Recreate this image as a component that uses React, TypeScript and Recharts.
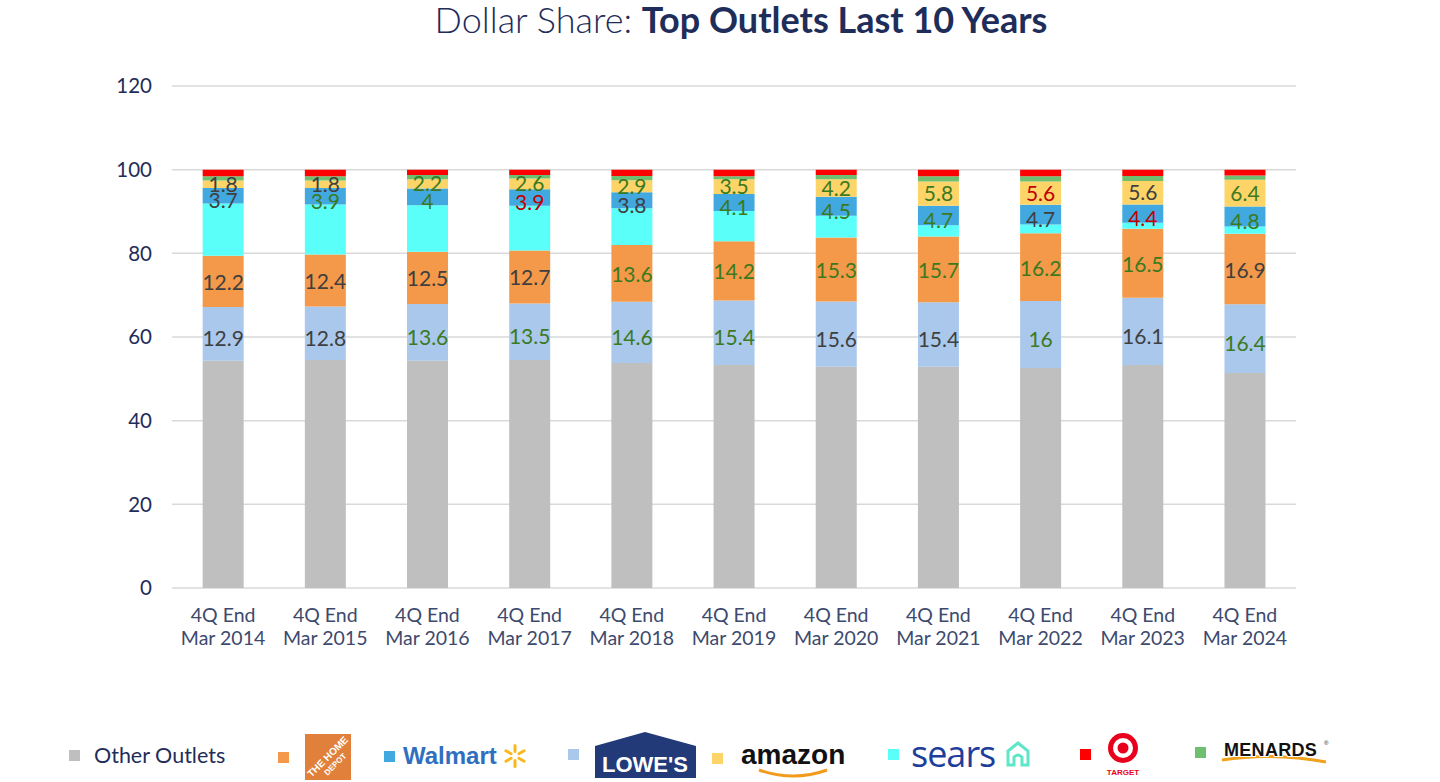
import { BarChart, Bar, XAxis, YAxis, CartesianGrid, LabelList } from "recharts";

const years = ["2014", "2015", "2016", "2017", "2018", "2019", "2020", "2021", "2022", "2023", "2024"];
const yTicks = [0, 20, 40, 60, 80, 100, 120];

// stacked bottom -> top
const otherOutlets = [54.3, 54.5, 54.3, 54.5, 53.8, 53.3, 52.9, 52.9, 52.6, 53.3, 51.4];
const lowes = [12.9, 12.8, 13.6, 13.5, 14.6, 15.4, 15.6, 15.4, 16, 16.1, 16.4];
const homeDepot = [12.2, 12.4, 12.5, 12.7, 13.6, 14.2, 15.3, 15.7, 16.2, 16.5, 16.9];
const sears = [12.5, 12.0, 11.1, 10.7, 8.8, 7.2, 5.2, 2.7, 2.1, 1.4, 1.7];
const walmart = [3.7, 3.9, 4, 3.9, 3.8, 4.1, 4.5, 4.7, 4.7, 4.4, 4.8];
const amazon = [1.8, 1.8, 2.2, 2.6, 2.9, 3.5, 4.2, 5.8, 5.6, 5.6, 6.4];
const menards = [1.0, 1.0, 1.0, 0.8, 1.0, 0.7, 1.0, 1.2, 1.2, 1.2, 1.0];
const target = [1.6, 1.6, 1.3, 1.3, 1.5, 1.6, 1.3, 1.6, 1.6, 1.5, 1.4];

// label colours: d = dark, g = green, r = red
const lowesTone = ["d", "d", "g", "g", "g", "g", "d", "d", "g", "d", "g"];
const homeDepotTone = ["d", "d", "d", "d", "g", "g", "g", "g", "g", "g", "d"];
const walmartTone = ["d", "g", "g", "r", "d", "g", "g", "g", "d", "r", "g"];
const amazonTone = ["d", "d", "g", "g", "g", "g", "g", "g", "r", "d", "g"];

const toneColor: Record<string, string> = { d: "#3f3f3f", g: "#3b7a1f", r: "#c00000" };

const NAVY = "#1f2d5a";
const FONT = "Lato, 'Open Sans', sans-serif";

const chartData = years.map((y, i) => ({
  year: y,
  other: otherOutlets[i],
  lowes: lowes[i],
  homeDepot: homeDepot[i],
  sears: sears[i],
  walmart: walmart[i],
  amazon: amazon[i],
  menards: menards[i],
  target: target[i],
}));

const makeLabel = (tones: string[], dy = 0) => (props: any) => {
  const { x, y, width, height, value, index } = props;
  return (
    <text
      x={Number(x) + Number(width) / 2}
      y={Number(y) + Number(height) / 2 + dy}
      textAnchor="middle"
      dominantBaseline="central"
      fontSize={21}
      fontFamily={FONT}
      fill={toneColor[tones[index] ?? "d"]}
    >
      {value}
    </text>
  );
};

const XTick = (props: any) => {
  const { x, y, payload } = props;
  return (
    <text x={x} y={y} textAnchor="middle" fontSize={19.5} fontFamily={FONT} fill="#3d4a6e">
      <tspan x={x} dy={26}>4Q End</tspan>
      <tspan x={x} dy={23}>Mar {payload.value}</tspan>
    </text>
  );
};

const Sq = ({ color }: { color: string }) => (
  <span style={{ display: "inline-block", width: 11, height: 11, background: color, marginRight: 8 }} />
);

const Legendary = () => (
  <div style={{ position: "absolute", left: 0, top: 728, width: 1440, height: 54, fontFamily: FONT }}>
    <div style={{ position: "absolute", left: 69, top: 14, display: "flex", alignItems: "center" }}>
      <Sq color="#bfbfbf" />
      <span style={{ fontSize: 21.5, color: NAVY, marginLeft: 6 }}>Other Outlets</span>
    </div>
    <div style={{ position: "absolute", left: 278, top: 6, display: "flex", alignItems: "center" }}>
      <Sq color="#f4994a" />
      <svg width={46} height={46} style={{ marginLeft: 8 }}>
        <rect width={46} height={46} fill="#e0803a" />
        <text x={23} y={26} textAnchor="middle" fontSize={10} fontWeight={900} fill="#fff" transform="rotate(-45 23 23)" fontFamily="Arial">THE HOME</text>
        <text x={23} y={36} textAnchor="middle" fontSize={8} fontWeight={900} fill="#fff" transform="rotate(-45 23 23)" fontFamily="Arial">DEPOT</text>
      </svg>
    </div>
    <div style={{ position: "absolute", left: 384, top: 13, display: "flex", alignItems: "center" }}>
      <Sq color="#41a9df" />
      <span style={{ fontSize: 24, fontWeight: 700, color: "#2f6fc0", fontFamily: "Arial" }}>Walmart</span>
      <svg width={30} height={30} style={{ marginLeft: 3 }}>
        {[0, 60, 120, 180, 240, 300].map((a) => (
          <rect key={a} x={13.5} y={3} width={3} height={9} rx={1.5} fill="#f9b81e" transform={`rotate(${a} 15 15)`} />
        ))}
      </svg>
    </div>
    <div style={{ position: "absolute", left: 568, top: 2, display: "flex", alignItems: "center" }}>
      <Sq color="#a9c8eb" />
      <svg width={101} height={48} style={{ marginLeft: 8 }}>
        <polygon points="0,16 50,2 101,16 101,48 0,48" fill="#233a78" />
        <text x={50} y={42} textAnchor="middle" fontSize={22} fontWeight={900} fill="#fff" fontFamily="Arial">LOWE'S</text>
      </svg>
    </div>
    <div style={{ position: "absolute", left: 712, top: 8, display: "flex", alignItems: "center" }}>
      <Sq color="#fcd468" />
      <svg width={112} height={44} style={{ marginLeft: 8 }}>
        <text x={2} y={28} fontSize={28} fontWeight={700} fill="#111" fontFamily="Arial">amazon</text>
        <path d="M20 34 Q55 46 88 34" stroke="#f29b1d" strokeWidth={3} fill="none" />
      </svg>
    </div>
    <div style={{ position: "absolute", left: 888, top: 11, display: "flex", alignItems: "center" }}>
      <Sq color="#5bfffa" />
      <span style={{ fontSize: 36, color: "#1d3e9c", fontFamily: "'Open Sans', sans-serif", lineHeight: "30px", marginLeft: 4, letterSpacing: -1 }}>sears</span>
      <svg width={30} height={30} style={{ marginLeft: 8 }}>
        <path d="M5 26 L5 12 L15 4 L25 12 L25 26 L19 26 L19 18 Q15 14 11 18 L11 26 Z" stroke="#5fe6c9" strokeWidth={3} fill="none" />
      </svg>
    </div>
    <div style={{ position: "absolute", left: 1080, top: 2, display: "flex", alignItems: "center" }}>
      <Sq color="#ff0000" />
      <svg width={40} height={48} style={{ marginLeft: 4 }}>
        <circle cx={20} cy={18} r={15} fill="#e8001c" />
        <circle cx={20} cy={18} r={10} fill="#fff" />
        <circle cx={20} cy={18} r={5.5} fill="#e8001c" />
        <text x={20} y={45} textAnchor="middle" fontSize={8} fontWeight={700} fill="#e8001c" fontFamily="Arial">TARGET</text>
      </svg>
    </div>
    <div style={{ position: "absolute", left: 1195, top: 8, display: "flex", alignItems: "center" }}>
      <Sq color="#70bf70" />
      <svg width={112} height={32} style={{ marginLeft: 4 }}>
        <path d="M4 24 Q55 16 108 26" stroke="#f2a11c" strokeWidth={3} fill="none" />
        <text x={6} y={20} fontSize={18} fontWeight={900} fill="#111" stroke="#fff" strokeWidth={2} paintOrder="stroke" fontFamily="Arial" letterSpacing={0.3}>MENARDS</text>
        <text x={106} y={9} fontSize={6} fill="#111" fontFamily="Arial">®</text>
      </svg>
    </div>
  </div>
);

export default function App() {
  return (
    <div style={{ position: "absolute", left: 0, top: 0, width: 1440, height: 782, background: "#fff", fontFamily: FONT }}>
      <div style={{ position: "absolute", left: 0, top: 0, width: 1440, textAlign: "center", paddingLeft: 42, boxSizing: "border-box", fontSize: 36, color: NAVY, lineHeight: "38px" }}>
        <span style={{ fontWeight: 300, display: "inline-block", whiteSpace: "pre" }}>Dollar Share: </span>
        <span style={{ fontWeight: 700, display: "inline-block" }}>Top Outlets Last 10 Years</span>
      </div>
      <div style={{ position: "absolute", left: 0, top: 0 }}>
        <BarChart
          width={1440}
          height={700}
          data={chartData}
          margin={{ top: 86, right: 144, left: 112, bottom: 52 }}
          barCategoryGap="30%"
        >
          <CartesianGrid vertical={false} stroke="#d9d9d9" strokeWidth={1.5} />
          <XAxis dataKey="year" axisLine={false} tickLine={false} tick={<XTick />} height={60} interval={0} />
          <YAxis
            domain={[0, 120]}
            ticks={yTicks}
            axisLine={false}
            tickLine={false}
            width={60}
            tickMargin={14}
            tick={{ fontSize: 20.5, fill: NAVY, fontFamily: FONT }}
          />
          <Bar dataKey="other" stackId="s" fill="#bfbfbf" isAnimationActive={false} />
          <Bar dataKey="lowes" stackId="s" fill="#a9c8eb" isAnimationActive={false}>
            <LabelList dataKey="lowes" content={makeLabel(lowesTone, 4)} />
          </Bar>
          <Bar dataKey="homeDepot" stackId="s" fill="#f4994a" isAnimationActive={false}>
            <LabelList dataKey="homeDepot" content={makeLabel(homeDepotTone)} />
          </Bar>
          <Bar dataKey="sears" stackId="s" fill="#5bfffa" isAnimationActive={false} />
          <Bar dataKey="walmart" stackId="s" fill="#41a9df" isAnimationActive={false}>
            <LabelList dataKey="walmart" content={makeLabel(walmartTone, 4)} />
          </Bar>
          <Bar dataKey="amazon" stackId="s" fill="#fcd468" isAnimationActive={false}>
            <LabelList dataKey="amazon" content={makeLabel(amazonTone, -1)} />
          </Bar>
          <Bar dataKey="menards" stackId="s" fill="#70bf70" isAnimationActive={false} />
          <Bar dataKey="target" stackId="s" fill="#ff0000" isAnimationActive={false} />
        </BarChart>
      </div>
      <Legendary />
    </div>
  );
}
